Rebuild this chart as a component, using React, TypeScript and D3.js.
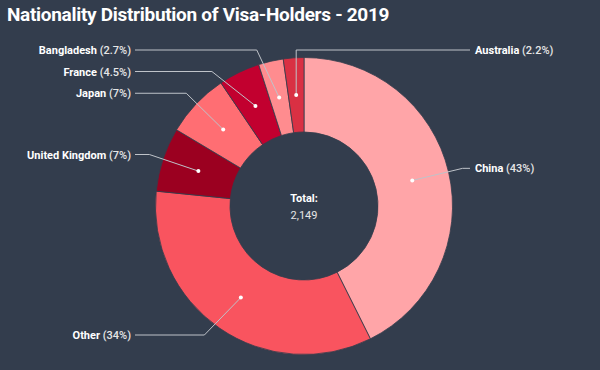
import React, { useEffect, useRef } from "react";
import * as d3 from "d3";

// visa holders by nationality, 2019
const countries = ["China", "Other", "United Kingdom", "Japan", "France", "Bangladesh", "Australia"];
const holders = [916, 730, 150, 150, 97, 58, 48];
const colors = ["#ffa5a8", "#f9545f", "#9b0020", "#ff6e73", "#c2002f", "#ff8c8f", "#d93043"];

const title = "Nationality Distribution of Visa-Holders - 2019";

const width = 600;
const height = 370;
const bg = "#333d4d";

export default function App() {
  const ref = useRef<SVGSVGElement>(null);

  useEffect(() => {
    document.body.style.margin = "0";
    document.body.style.background = bg;
    const svg = d3.select(ref.current);
    svg.selectAll("*").remove();

    const cx = 304, cy = 206;
    const outer = 148.5, inner = 74;
    const labelR = 164, kneeR = 163;
    const top = 50, bottom = 335, gap = 21.5;

    const data = countries.map((c, i) => ({ name: c, value: holders[i], color: colors[i] }));
    const total = d3.sum(holders);
    const fmt = d3.format(".2~r");

    const pie = d3.pie<any>().value(d => d.value).sort(null);
    const arcs = pie(data);
    const arc = d3.arc<any>().innerRadius(inner).outerRadius(outer);

    svg.append("rect").attr("width", width).attr("height", height).attr("fill", bg);

    svg.append("text")
      .attr("x", 7)
      .attr("y", 21)
      .attr("fill", "#fff")
      .style("font-family", "Roboto")
      .style("font-weight", 700)
      .style("font-size", "19px")
      .style("letter-spacing", "-0.3px")
      .text(title);

    const g = svg.append("g").attr("transform", `translate(${cx},${cy})`);

    g.selectAll("path.slice")
      .data(arcs)
      .enter()
      .append("path")
      .attr("class", "slice")
      .attr("d", arc)
      .attr("fill", d => d.data.color)
      .attr("stroke", bg)
      .attr("stroke-width", 0.8);

    // label layout: natural position, then push apart per side
    const mid = (d: any) => (d.startAngle + d.endAngle) / 2;
    const labels = arcs.map(d => {
      const a = mid(d);
      const c = arc.centroid(d);
      const side = a < Math.PI || a > 2 * Math.PI - 0.15 ? "right" : "left";
      let y = -labelR * Math.cos(a);
      y = Math.max(top - cy, Math.min(bottom - cy, y));
      return { d, a, c, side, y };
    });
    ["left", "right"].forEach(s => {
      const list = labels.filter(l => l.side === s).sort((p, q) => p.y - q.y);
      for (let i = 1; i < list.length; i++) {
        list[i].y = Math.max(list[i].y, list[i - 1].y + gap);
      }
      for (let i = list.length - 2; i >= 0; i--) {
        list[i].y = Math.min(list[i].y, list[i + 1].y - gap);
      }
    });

    const lab = g.selectAll("g.label").data(labels).enter().append("g").attr("class", "label");

    lab.append("polyline")
      .attr("fill", "none")
      .attr("stroke", "#bfc3c9")
      .attr("stroke-width", 1)
      .attr("points", l => {
        const sign = l.side === "right" ? 1 : -1;
        const endX = l.side === "right" ? 470 - cx : 135 - cx;
        let kx = l.c[0];
        const wrongSide = (l.c[0] < 0 && l.side === "right") || (l.c[0] > 0 && l.side === "left");
        if (!wrongSide && Math.abs(l.y) < kneeR) kx = sign * Math.sqrt(kneeR * kneeR - l.y * l.y);
        return [[endX, l.y], [kx, l.y], l.c].map(p => p.join(",")).join(" ");
      });

    lab.append("circle")
      .attr("cx", l => l.c[0])
      .attr("cy", l => l.c[1])
      .attr("r", 2)
      .attr("fill", "#fff");

    const txt = lab.append("text")
      .attr("x", l => (l.side === "right" ? 475 - cx : 131 - cx))
      .attr("y", l => l.y + 4)
      .attr("text-anchor", l => (l.side === "right" ? "start" : "end"))
      .style("font-family", "Roboto")
      .style("font-size", "11px");
    txt.append("tspan")
      .attr("fill", "#fff")
      .style("font-weight", 700)
      .text(l => l.d.data.name + " ");
    txt.append("tspan")
      .attr("fill", "#e6e6e6")
      .style("font-weight", 500)
      .text(l => "(" + fmt((l.d.value / total) * 100) + "%)");

    g.append("text")
      .attr("y", -4)
      .attr("text-anchor", "middle")
      .attr("fill", "#fff")
      .style("font-family", "Roboto")
      .style("font-weight", 700)
      .style("font-size", "11px")
      .text("Total:");
    g.append("text")
      .attr("y", 13)
      .attr("text-anchor", "middle")
      .attr("fill", "#e6e6e6")
      .style("font-family", "Roboto")
      .style("font-size", "11px")
      .text(d3.format(",")(total));
  }, []);

  return <svg ref={ref} width={width} height={height} style={{ display: "block" }} />;
}
